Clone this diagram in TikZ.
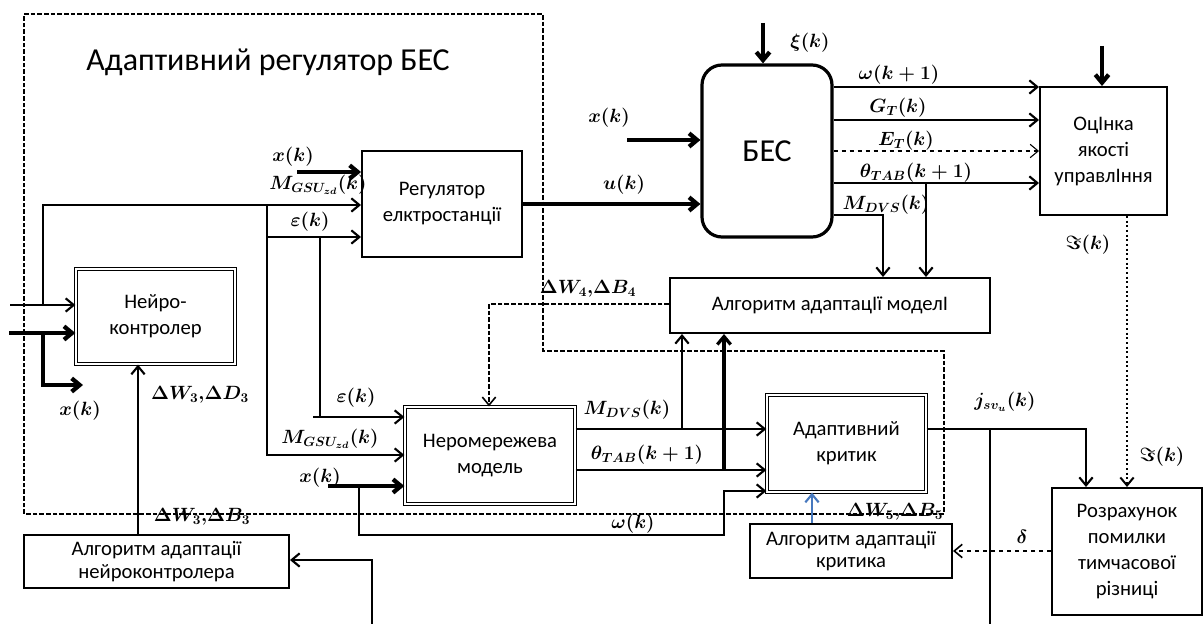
\documentclass[tikz,border=0pt]{standalone}
\usepackage{fontspec}
\setmainfont{Carlito}
\usetikzlibrary{arrows.meta}
\begin{document}
\begin{tikzpicture}[x=0.75pt,y=-0.75pt,
  every node/.style={font=\fontsize{15.5}{19.5}\selectfont},
  box/.style={draw,line width=1.5pt,align=center,inner sep=0pt},
  dbox/.style={draw,align=center,inner sep=0pt,double,double distance=1.3pt,line width=1pt},
  ln/.style={line width=1.6pt},
  tk/.style={line width=3.2pt},
  arr/.style={-{Straight Barb[length=6pt,width=10pt]}},
  lbl/.style={inner sep=0pt,font=\fontsize{14}{17}\selectfont\boldmath},
  odash/.style={line width=1.2pt,dash pattern=on 3.5pt off 1.5pt},
]
\useasboundingbox (0,0) rectangle (1204,624);

% outer dashed region
\draw[odash] (24,14) -- (543,14) -- (543,351) -- (944,351) -- (944,514) -- (24,514) -- cycle;
\node[font=\fontsize{24}{28}\selectfont] (title) at (268,62) {Адаптивний регулятор БЕС};

% boxes
\node[box,minimum width=120pt,minimum height=79.5pt] (reg) at (442,204) {Регулятор\\елктростанції};
\node[box,line width=2.4pt,rounded corners=15pt,minimum width=97.5pt,minimum height=129pt,font=\fontsize{24}{28}\selectfont] (bes) at (767,151) {БЕС};
\node[box,minimum width=95.25pt,minimum height=96pt] (ocin) at (1103.5,151) {ОцІнка\\якості\\управлІння};
\node[box,minimum width=240pt,minimum height=41.25pt] (algm) at (830,305.5) {Алгоритм адаптацІї моделІ};
\node[dbox,minimum width=119.25pt,minimum height=71.25pt] (neuro) at (155.5,316.5) {Нейро-\\контролер};
\node[dbox,minimum width=127.5pt,minimum height=72.75pt] (nnm) at (490,455.5) {Неромережева\\модель};
\node[dbox,minimum width=119.25pt,minimum height=72.75pt] (crit) at (846.5,443.5) {Адаптивний\\критик};
\node[box,minimum width=198.75pt,minimum height=39.75pt,font=\fontsize{15.5}{17}\selectfont] (algn) at (156.5,561.5) {Алгоритм адаптації\\нейроконтролера};
\node[box,minimum width=151.5pt,minimum height=40.5pt,font=\fontsize{15.5}{17}\selectfont] (algc) at (851,551) {Алгоритм адаптації\\критика};
\node[box,minimum width=112.5pt,minimum height=95.25pt] (rozr) at (1127,551.5) {Розрахунок\\помилки\\тимчасової\\різниці};

% coordinates
\coordinate (in1) at (10,305);
\coordinate (in2) at (9,333);
\coordinate (b1) at (43,305);
\coordinate (b2) at (43,333);
\coordinate (xo) at (83,385);
\coordinate (v1) at (267,205);
\coordinate (v1e) at (267,237);
\coordinate (v2) at (320,237);
\coordinate (v2b) at (320,417);
\coordinate (e2) at (313,417);
\coordinate (xr) at (297,172);
\coordinate (xn) at (328,486);
\coordinate (bx) at (359,486);
\coordinate (wk) at (724,535);
\coordinate (fb) at (372,624);
\coordinate (xb) at (627,140);
\coordinate (xi) at (763,23);
\coordinate (qi) at (1102,46);
\coordinate (md) at (682,429);
\coordinate (th) at (724,470);
\coordinate (mb) at (883,215);
\coordinate (tb) at (926,183);
\coordinate (jb) at (1086,429);
\coordinate (jv) at (990,429);
\coordinate (jve) at (990,624);
\coordinate (dd) at (489,304);

% left inputs
\draw[ln,arr] (in1) -- (in1 -| neuro.west);
\draw[tk,arr] (in2) -- (in2 -| neuro.west);
\draw[tk,arr] (b2) |- (xo);
\draw[ln,arr] (b1) |- (reg.west |- v1);
\draw[ln,arr] (v1) |- (nnm.west |- 0,455);
\draw[ln,arr] (v1e) -- (v1e -| reg.west);
\draw[ln] (v2) -- (v2b);
\draw[ln,arr] (e2) -- (e2 -| nnm.west);
\draw[tk,arr] (xr) -- (xr -| reg.west);
\draw[tk,arr] (xn) -- (xn -| nnm.west);
\draw[ln,arr] (bx) |- (wk) |- (crit.west |- 0,491);

% adaptation neurocontroller
\draw[ln,arr] (algn.north -| 138,0) -- (neuro.south -| 138,0);
\draw[ln,arr] (fb) |- (algn.east |- 0,560);

% regulator -> BES
\draw[tk,arr] (reg.east |- 0,204) -- (bes.west |- 0,204);
\draw[tk,arr] (xb) -- (xb -| bes.west);
\draw[tk,arr] (xi) -- (xi |- bes.north);

% BES outputs
\draw[ln,arr] (bes.east |- 0,87) -- (ocin.west |- 0,87);
\draw[ln,arr] (bes.east |- 0,120) -- (ocin.west |- 0,120);
\draw[line width=0.8pt,dashed,arr] (bes.east |- 0,151) -- (ocin.west |- 0,151);
\draw[ln,arr] (bes.east |- 0,183) -- (ocin.west |- 0,183);
\draw[ln,arr] (bes.east |- 0,215) -| (algm.north -| mb);
\draw[ln,arr] (tb) -- (algm.north -| tb);
\draw[tk,arr] (qi) -- (qi |- ocin.north);

% model adaptation
\draw[odash,arr] (algm.west |- dd) -- (dd) -- (dd |- nnm.north);
\draw[ln,arr] (nnm.east |- md) -- (crit.west |- md);
\draw[ln,arr] (nnm.east |- th) -- (crit.west |- th);
\draw[ln,arr] (md) -- (algm.south -| md);
\draw[line width=2.4pt,arr] (th) -- (algm.south -| th);

% critic
\draw[ln,arr] (crit.east |- jb) -- (jb) -- (jb |- rozr.north);
\draw[line width=1.2pt] (jv) -- (jve);
\draw[line width=1.5pt,dotted,arr] (ocin.south -| 1127,0) -- (rozr.north -| 1127,0);
\draw[line width=1.6pt,color={rgb,255:red,70;green,120;blue,190},arr] (algc.north -| 812,0) -- (crit.south -| 812,0);
\draw[line width=1.2pt,dashed,arr] (rozr.west |- 0,551) -- (algc.east |- 0,551);

% labels
\node[lbl] (l1) at (293,157) {$x(k)$};
\node[lbl] (l2) at (318,185) {$M_{GSU_{zd}}(k)$};
\node[lbl] (l3) at (310,222) {$\varepsilon(k)$};
\node[lbl] (l4) at (588,289) {$\Delta W_4{,}\Delta B_4$};
\node[lbl] (l5) at (609,118) {$x(k)$};
\node[lbl] (l6) at (624,185) {$u(k)$};
\node[lbl] (l7) at (810,43) {$\xi(k)$};
\node[lbl] (l8) at (899,75) {$\omega(k+1)$};
\node[lbl] (l9) at (898,108) {$G_T(k)$};
\node[lbl] (l10) at (906,141) {$E_T(k)$};
\node[lbl] (l11) at (916,173) {$\theta_{TAB}(k+1)$};
\node[lbl] (l12) at (886,205) {$M_{DVS}(k)$};
\node[lbl] (l13) at (1088,245) {$\Im(k)$};
\node[lbl] (l14) at (80,411) {$x(k)$};
\node[lbl] (l15) at (200,395) {$\Delta W_3{,}\Delta D_3$};
\node[lbl] (l16) at (356,398) {$\varepsilon(k)$};
\node[lbl] (l17) at (330,439) {$M_{GSU_{zd}}(k)$};
\node[lbl] (l18) at (320,478) {$x(k)$};
\node[lbl] (l19) at (202,517) {$\Delta W_3{,}\Delta B_3$};
\node[lbl] (l20) at (633,524) {$\omega(k)$};
\node[lbl] (l21) at (627,410) {$M_{DVS}(k)$};
\node[lbl] (l22) at (647,455) {$\theta_{TAB}(k+1)$};
\node[lbl] (l23) at (1005,402) {$j_{sv_u}(k)$};
\node[lbl] (l24) at (1162,457) {$\Im(k)$};
\node[lbl] (l25) at (895,512) {$\Delta W_5{,}\Delta B_5$};
\node[lbl] (l26) at (1022,537) {$\delta$};
\end{tikzpicture}
\end{document}
